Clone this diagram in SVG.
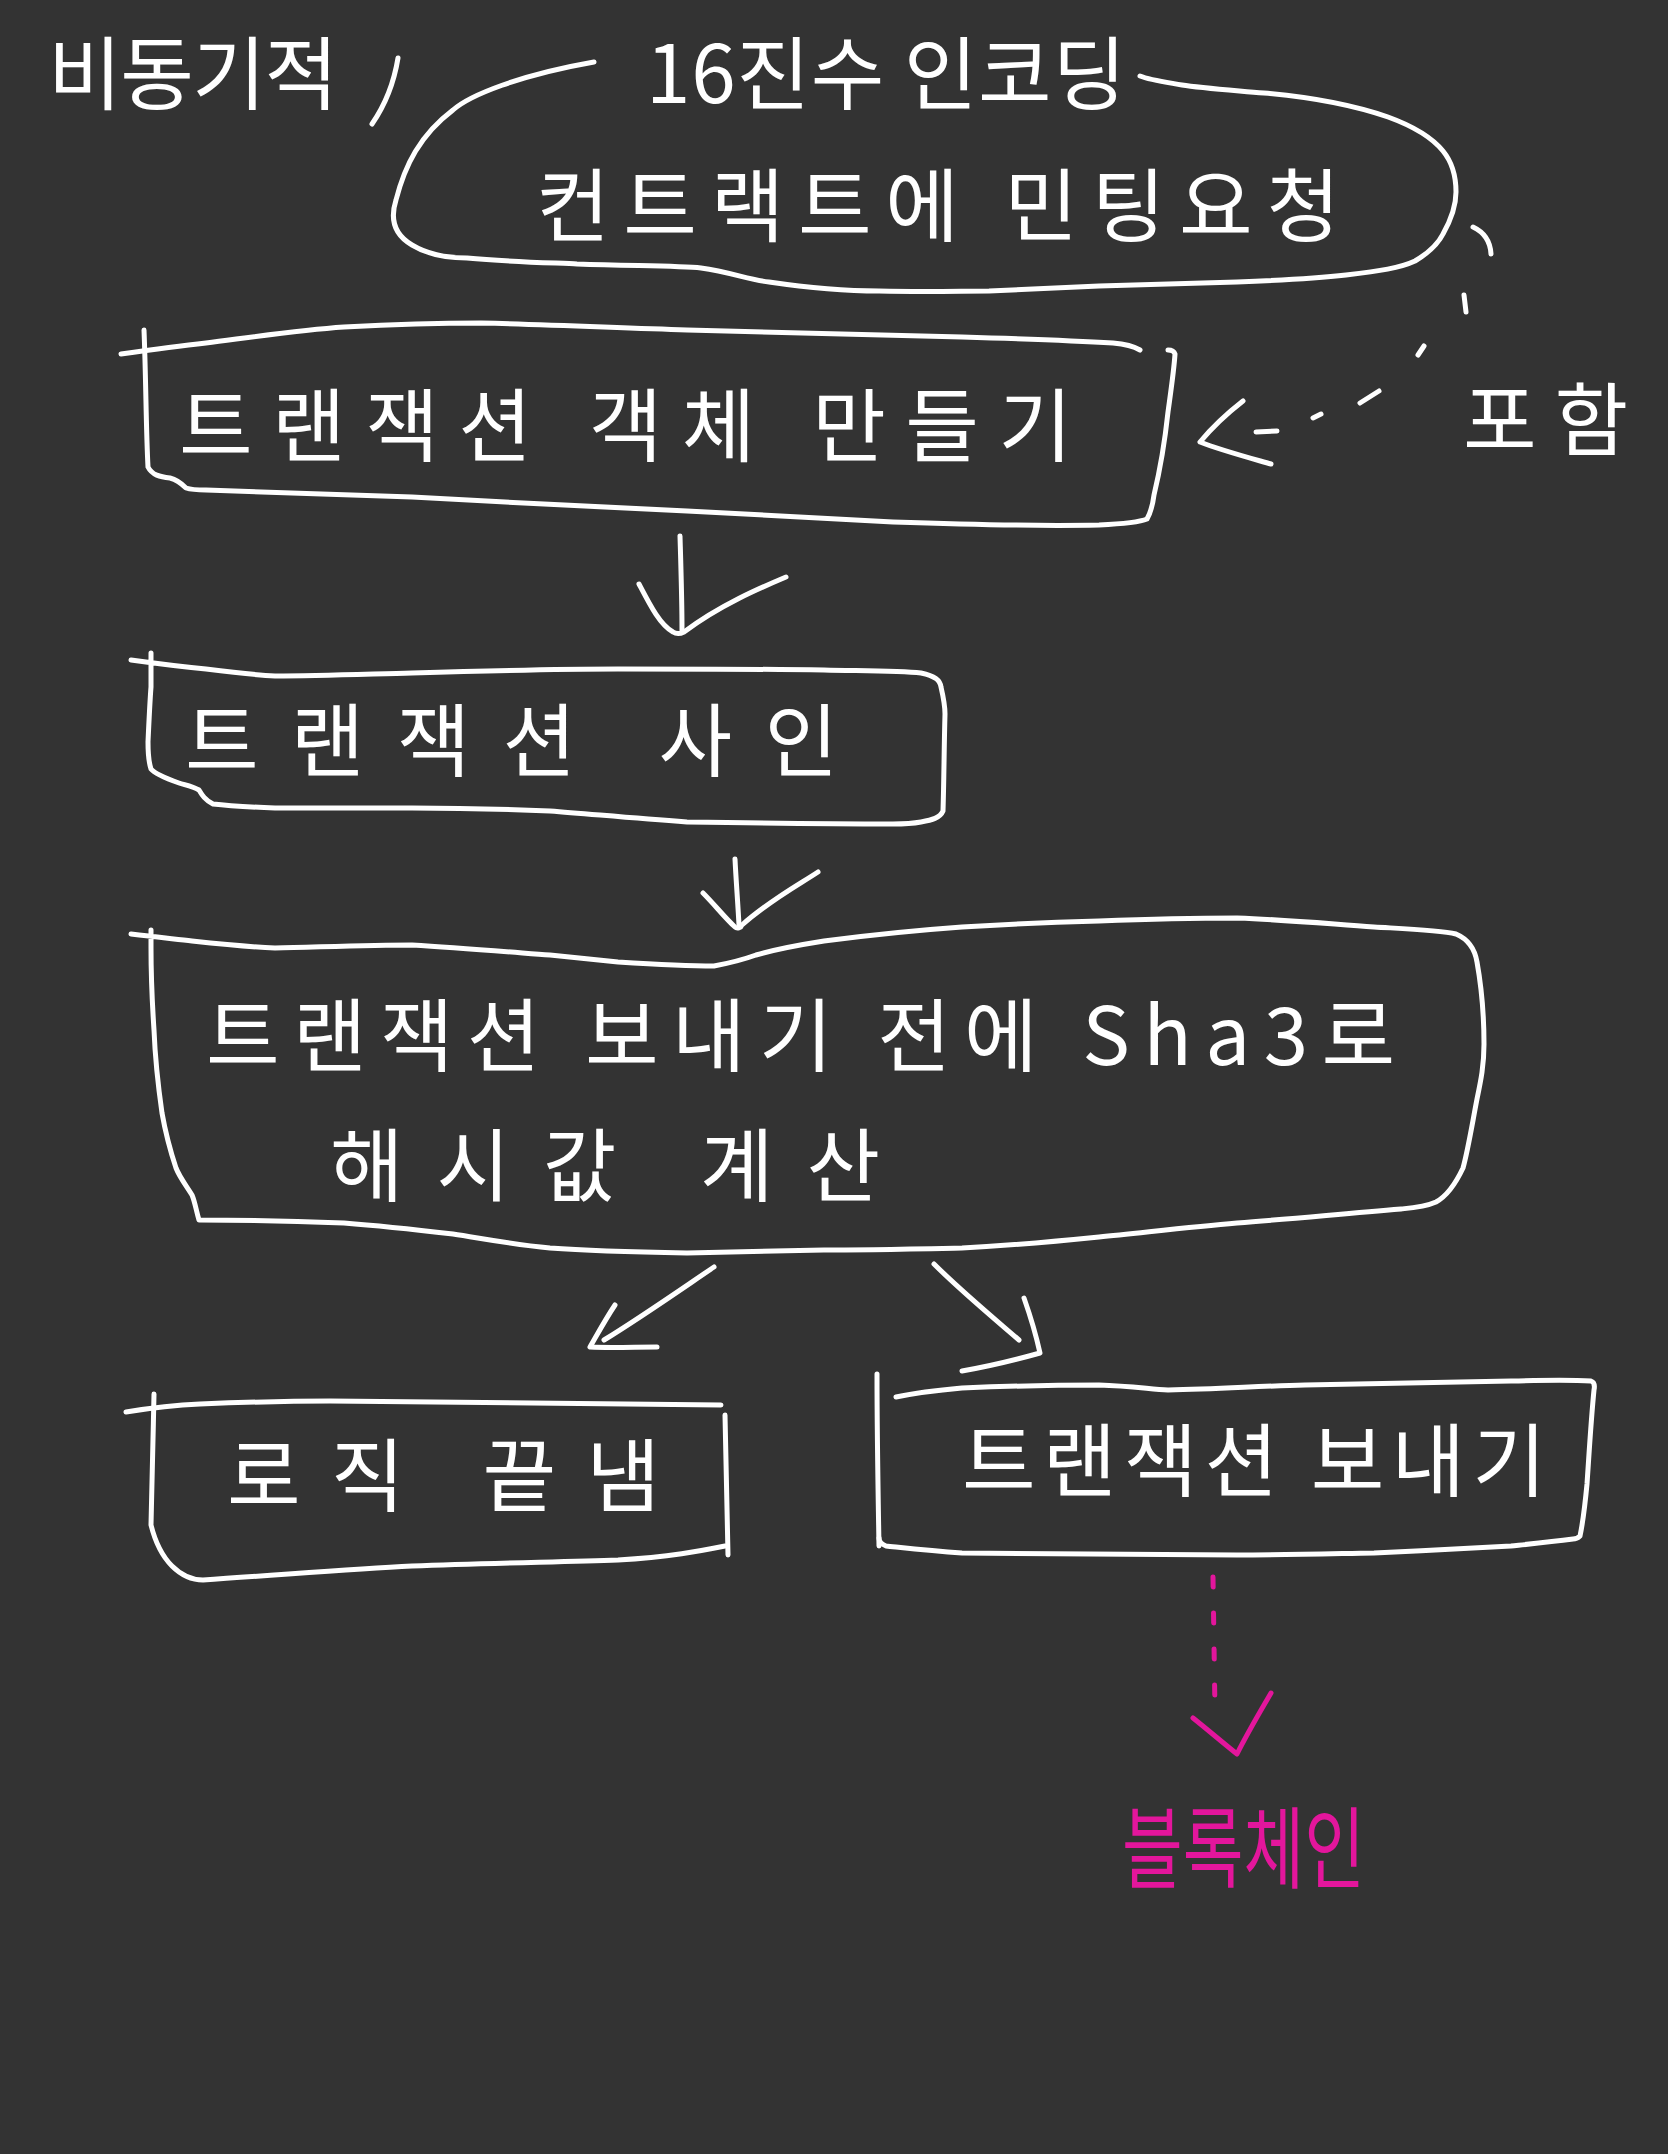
<svg xmlns="http://www.w3.org/2000/svg" width="1668" height="2154" viewBox="0 0 1668 2154">
<style>
.s{fill:none;stroke:#ffffff;stroke-width:5;stroke-linecap:round;stroke-linejoin:round}
.m{fill:none;stroke:#e3169c;stroke-width:5;stroke-linecap:round;stroke-linejoin:round}
.t{fill:#ffffff;font-family:"Noto Sans CJK KR","Noto Sans",sans-serif;font-size:80px;dominant-baseline:central}
.tm{fill:#e3169c;font-family:"Noto Sans CJK KR","Noto Sans",sans-serif;font-size:66px;dominant-baseline:central}
</style>
<rect width="1668" height="2154" fill="#333333"/>

<g id="note-async">
<text class="t" x="48" y="68" textLength="290" lengthAdjust="spacing">비동기적</text>
<path class="s" d="M398,58 Q392,95 372,124"/>
</g>

<g id="node-mint-request">
<path class="s" d="M594,62 C520,75 470,95 453,110 C420,135 405,165 396,200 C388,225 400,238 412,245 C430,256 450,258 467,258 C510,262 560,263 577,264 C640,266 680,266 701,268 C730,272 750,280 769,282 C810,288 850,291 879,291 C930,292 960,291 989,291 C1040,289 1070,287 1099,286 C1160,284 1200,283 1237,282 C1290,280 1320,278 1346,275 C1380,271 1400,268 1415,261 C1430,252 1438,244 1443,234 C1452,218 1456,205 1456,192 C1456,175 1452,162 1443,151 C1430,135 1410,125 1388,117 C1350,104 1310,97 1264,93 C1230,90 1200,88 1182,85 C1165,82 1150,80 1140,76"/>
<text class="t" x="646" y="68" textLength="480" lengthAdjust="spacing">16진수 인코딩</text>
<text class="t" x="536" y="200" font-size="90" textLength="804" lengthAdjust="spacing">컨트랙트에 민팅요청</text>
</g>

<g id="node-include">
<text class="t" x="1463" y="414" font-size="84" textLength="165" lengthAdjust="spacing">포함</text>
</g>

<g id="node-create-tx">
<path class="s" d="M121,354 C150,350 180,346 206,343 C260,336 300,330 344,327 C400,324 440,323 481,323 C560,325 620,328 687,330 C800,333 900,335 962,337 C1030,339 1080,341 1113,343 C1125,344 1135,347 1140,350"/>
<path class="s" d="M144,330 C146,380 146,430 148,467 C152,475 160,477 170,478 C178,480 182,484 186,488 C192,490 198,490 206,490 C280,493 350,495 412,497 C500,502 600,507 687,511 C770,515 840,519 893,522 C980,525 1050,526 1099,525 C1120,524 1140,522 1147,519 C1152,510 1153,503 1154,495 C1160,470 1165,440 1168,412 C1171,390 1174,370 1175,354 C1174,351 1171,350 1168,350"/>
<text class="t" x="179" y="420" textLength="893" lengthAdjust="spacing">트랜잭션 객체 만들기</text>
</g>

<g id="node-sign-tx">
<path class="s" d="M131,660 C160,664 185,667 206,669 C230,672 255,675 275,676 C320,676 370,674 412,673 C480,671 550,669 618,669 C690,669 760,669 824,670 C870,671 900,671 921,673 C935,676 940,680 941,687 C944,700 945,707 945,714 C944,750 944,780 943,811 C940,818 932,820 921,822 C910,824 900,824 893,824 C820,824 750,823 687,822 C630,818 590,814 550,811 C500,809 450,808 412,808 C360,808 310,808 275,808 C250,807 230,806 213,804 C205,800 202,795 199,790 C192,786 185,785 179,783 C165,778 155,774 151,769 C148,760 148,750 148,742 C149,720 150,700 151,687 C151,675 151,662 151,653"/>
<text class="t" x="185" y="735" font-size="84" textLength="653" lengthAdjust="spacing">트랜잭션 사인</text>
</g>

<g id="node-hash">
<path class="s" d="M131,934 C155,937 175,939 192,941 C220,944 250,947 275,948 C320,947 370,945 412,945 C460,948 510,952 550,955 C580,958 600,960 618,962 C650,964 690,966 714,966 C730,963 745,959 756,955 C780,948 805,944 824,941 C870,935 920,930 962,927 C1010,924 1060,922 1099,921 C1150,919 1200,918 1237,918 C1290,920 1330,924 1374,927 C1410,929 1440,930 1456,934 C1470,940 1475,950 1477,962 C1482,990 1484,1020 1484,1044 C1484,1065 1481,1080 1477,1099 C1472,1125 1468,1150 1463,1168 C1455,1185 1447,1196 1436,1202 C1425,1207 1412,1208 1401,1209 C1340,1214 1290,1219 1237,1223 C1190,1227 1140,1233 1099,1237 C1050,1242 1000,1246 962,1248 C910,1249 860,1250 824,1250 C770,1251 720,1252 687,1253 C630,1252 590,1251 550,1248 C510,1244 480,1238 453,1234 C410,1229 370,1225 344,1223 C290,1221 240,1220 199,1220 C196,1210 195,1202 192,1195 C186,1185 180,1178 176,1168 C170,1150 165,1130 162,1113 C158,1085 155,1055 154,1030 C152,1000 151,970 151,948 C151,940 151,935 151,930"/>
<text class="t" x="206" y="1030" font-size="84" textLength="1189" lengthAdjust="spacing">트랜잭션 보내기 전에 Sha3로</text>
<text class="t" x="330" y="1160" font-size="84" textLength="550" lengthAdjust="spacing">해시값 계산</text>
</g>

<g id="node-end-logic">
<path class="s" d="M126,1412 C150,1408 175,1405 200,1404 C250,1402 290,1401 330,1401 C480,1402 620,1404 721,1405"/>
<path class="s" d="M154,1394 C153,1440 152,1490 151,1525 C156,1545 164,1558 172,1566 C182,1576 192,1580 203,1580 C280,1575 350,1569 412,1566 C490,1563 560,1562 618,1560 C670,1557 700,1551 725,1546"/>
<path class="s" d="M725,1415 C726,1460 727,1510 728,1555"/>
<text class="t" x="227" y="1470" font-size="84" textLength="433" lengthAdjust="spacing">로직 끝냄</text>
</g>

<g id="node-send-tx">
<path class="s" d="M877,1374 C877,1430 878,1490 879,1546"/>
<path class="s" d="M896,1397 C920,1392 940,1390 962,1388 C1010,1386 1060,1385 1099,1385 C1130,1386 1150,1389 1168,1390 C1220,1389 1260,1386 1305,1385 C1380,1383 1450,1382 1511,1381 C1550,1380 1575,1380 1591,1381 C1594,1382 1595,1385 1594,1390 C1591,1420 1589,1455 1587,1484 C1585,1505 1583,1522 1580,1536 C1578,1538 1576,1539 1573,1539 C1550,1542 1530,1544 1511,1546 C1460,1549 1420,1551 1374,1553 C1320,1554 1280,1555 1237,1555 C1140,1555 1050,1554 962,1553 C930,1551 905,1548 886,1546 C881,1544 879,1541 879,1538"/>
<text class="t" x="962" y="1455" textLength="584" lengthAdjust="spacing">트랜잭션 보내기</text>
</g>

<g id="node-blockchain">
<text class="tm" transform="translate(1122,1842) scale(1,1.35)" x="0" y="0">블록체인</text>
</g>

<g id="connectors">
<path class="s" d="M1473,227 Q1490,235 1491,254"/>
<path class="s" d="M1464,295 L1466,312"/>
<path class="s" d="M1418,355 L1424,346"/>
<path class="s" d="M1360,403 L1379,391"/>
<path class="s" d="M1313,418 L1321,414"/>
<path class="s" d="M1256,432 L1277,431"/>
<path class="s" d="M1243,401 C1225,415 1210,430 1200,442 C1220,450 1250,458 1271,464"/>

<path class="s" d="M680,536 C681,570 682,600 682,630"/>
<path class="s" d="M639,584 C650,605 660,625 673,632 C676,634 680,634 684,632 C720,605 760,588 786,577"/>

<path class="s" d="M735,859 C736,880 738,905 739,925"/>
<path class="s" d="M703,893 C715,905 725,918 735,927 C737,929 741,928 742,925 C770,900 800,884 818,872"/>

<path class="s" d="M714,1267 C680,1290 640,1318 604,1340"/>
<path class="s" d="M615,1305 C605,1320 597,1335 590,1347 C610,1348 635,1347 657,1347"/>

<path class="s" d="M934,1264 C960,1290 990,1315 1019,1340"/>
<path class="s" d="M1024,1298 C1030,1315 1036,1335 1040,1353 C1015,1360 985,1367 962,1371"/>

<path class="m" stroke-dasharray="10 26" d="M1213,1577 L1215,1712"/>
<path class="m" d="M1193,1718 C1208,1730 1222,1742 1237,1754 C1248,1732 1260,1712 1271,1693"/>
</g>
</svg>
